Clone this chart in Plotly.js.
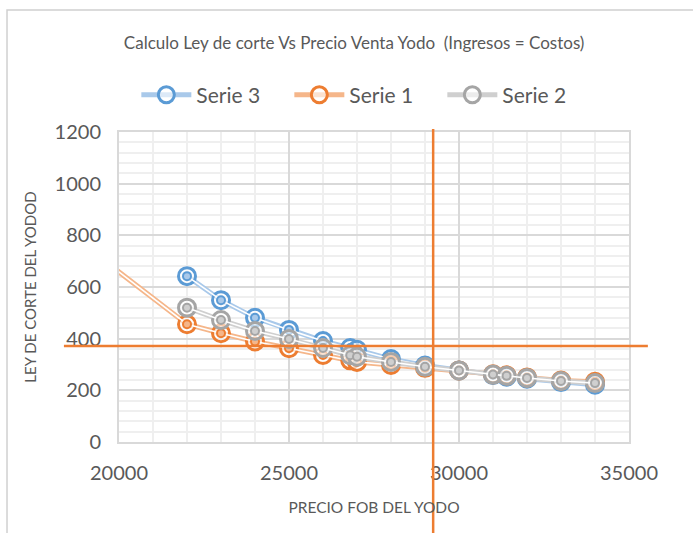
<!DOCTYPE html>
<html>
<head>
<meta charset="utf-8">
<script src="https://cdn.plot.ly/plotly-3.0.1.min.js"></script>
<style>
  html, body { margin: 0; padding: 0; background: #fff; }
  #chart { width: 693px; height: 533px; }
</style>
</head>
<body>
<div id="chart"></div>
<script>
// precio FOB del yodo (US$/t) -- eje x
var precio = [22000, 23000, 24000, 25000, 26000, 26800, 27000, 28000, 29000, 30000, 31000, 31400, 32000, 33000, 34000];
var precioSerie1 = [19000].concat(precio);

// ley de corte (ppm)
var serie3 = [642, 549, 481, 434, 391, 364, 357, 321, 296, 277, 259, 253, 245, 232, 222];
var serie1 = [759, 456, 421, 389, 363, 337, 316, 310, 298, 287, 277, 262, 258, 250, 238, 233];
var serie2 = [520, 472, 430, 399, 364, 336, 330, 310, 291, 277, 261, 256, 248, 236, 228];

// lineas de referencia (naranjas)
var leyCorteRef = 372;
var precioEquilibrio = 29240;

var FONT = 'Lato, "Open Sans", sans-serif';
var GRIS_TXT = '#595959';

function serieTraces(name, x, y, dark, light) {
  var outer = {
    x: x, y: y, name: name,
    type: 'scatter', mode: 'lines+markers',
    line: { color: light, width: 5 },
    marker: { symbol: 'circle', size: 17, color: 'rgba(255,255,255,0.6)',
              line: { color: dark, width: 3 } }
  };
  var inner = {
    x: x, y: y, name: name, showlegend: false, hoverinfo: 'skip',
    type: 'scatter', mode: 'lines+markers',
    line: { color: '#ffffff', width: 1.6 },
    marker: { symbol: 'circle', size: 8, color: light,
              line: { color: dark, width: 2 } }
  };
  return [outer, inner];
}

var data = []
  .concat(serieTraces('Serie 3', precio, serie3, '#5b9bd5', '#a9c9ea'))
  .concat(serieTraces('Serie 1', precioSerie1, serie1, '#ed7d31', '#f5b68a'))
  .concat(serieTraces('Serie 2', precio, serie2, '#a5a5a5', '#cfcfcf'));

var layout = {
  width: 693, height: 533,
  margin: { l: 119, r: 64, t: 132, b: 91 },
  paper_bgcolor: '#fff', plot_bgcolor: '#fff',
  font: { family: FONT, color: GRIS_TXT },
  title: {
    text: 'Calculo Ley de corte Vs Precio Venta Yodo  (Ingresos = Costos)',
    font: { family: FONT, size: 17, color: GRIS_TXT },
    xref: 'container', x: 0.511, xanchor: 'center',
    yref: 'container', y: 0.919, yanchor: 'middle'
  },
  showlegend: true,
  legend: {
    orientation: 'h',
    xref: 'paper', x: 0.484, xanchor: 'center',
    yref: 'paper', y: 1.119, yanchor: 'middle',
    font: { family: FONT, size: 21, color: GRIS_TXT },
    itemwidth: 50,
    entrywidth: 88, entrywidthmode: 'pixels'
  },
  xaxis: {
    range: [20000, 35000], dtick: 5000, tick0: 20000, tickformat: 'd',
    showgrid: true, gridcolor: '#d9d9d9', gridwidth: 1.5,
    minor: { dtick: 1000, showgrid: true, gridcolor: '#efefef', gridwidth: 1.5 },
    showline: true, mirror: true, linecolor: '#d9d9d9', linewidth: 2,
    zeroline: false, ticks: '',
    tickfont: { family: FONT, size: 20, color: GRIS_TXT },
    ticklabelstandoff: 12,
    title: { text: 'PRECIO FOB DEL YODO', font: { family: FONT, size: 15.5, color: GRIS_TXT }, standoff: 19 }
  },
  yaxis: {
    range: [0, 1200], dtick: 200,
    showgrid: true, gridcolor: '#d9d9d9', gridwidth: 1.5,
    minor: { dtick: 40, showgrid: true, gridcolor: '#efefef', gridwidth: 1.5 },
    showline: true, mirror: true, linecolor: '#d9d9d9', linewidth: 2,
    zeroline: false, ticks: '',
    tickfont: { family: FONT, size: 20, color: GRIS_TXT },
    ticklabelstandoff: 12,
    title: { text: 'LEY DE CORTE DEL YODOD', font: { family: FONT, size: 15, color: GRIS_TXT }, standoff: 14 }
  },
  shapes: [
    // borde del area del grafico
    { type: 'rect', xref: 'paper', yref: 'paper', x0: -0.2196, x1: 1.16, y0: -0.5, y1: 1.3935,
      line: { color: '#d0d0d0', width: 1.5 }, layer: 'below' },
    { type: 'line', xref: 'paper', yref: 'y', x0: -0.108, x1: 1.037, y0: leyCorteRef, y1: leyCorteRef,
      line: { color: '#ed7d31', width: 2.5 } },
    { type: 'line', xref: 'x', yref: 'paper', x0: precioEquilibrio, x1: precioEquilibrio, y0: -0.32, y1: 1.01,
      line: { color: '#ed7d31', width: 2.5 } }
  ]
};

Plotly.newPlot('chart', data, layout, { displayModeBar: false, responsive: false });
</script>
</body>
</html>
